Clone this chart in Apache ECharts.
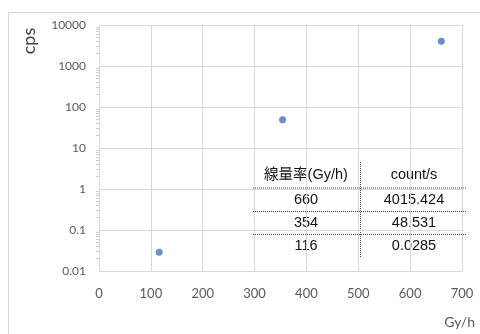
<!DOCTYPE html>
<html><head><meta charset="utf-8">
<script src="https://cdn.jsdelivr.net/npm/echarts@6/dist/echarts.min.js"></script>
<style>html,body{margin:0;padding:0;background:#fff}#c{width:480px;height:334px}</style>
</head><body><div id="c"></div>
<script>
const doseRates = [660, 354, 116];
const counts = [4015.424, 48.531, 0.0285];
const countLabels = ['4015.424', '48.531', '0.0285'];
const xTicks = [0, 100, 200, 300, 400, 500, 600, 700];
const yTicks = ['0.01', '0.1', '1', '10', '100', '1000', '10000'];
const tableHeader = ['線量率(Gy/h)', 'count/s'];
const xName = 'Gy/h';
const yName = 'cps';

const chart = echarts.init(document.getElementById('c'), null, {renderer: 'canvas'});
const font = 'Lato, "Noto Sans", "Noto Sans CJK JP", sans-serif';
const tableFont = '"Liberation Sans", Arial, "Noto Sans CJK JP", sans-serif';

const graphics = [
  {type: 'rect', shape: {x: 8.5, y: 12.5, width: 480, height: 330}, style: {fill: 'none', stroke: '#d9d9d9', lineWidth: 1}, silent: true},
  {type: 'text', x: 475, y: 322, style: {text: xName, font: '14px ' + font, fill: '#595959', align: 'right', verticalAlign: 'middle'}},
  {type: 'text', x: 29, y: 41, rotation: Math.PI / 2, style: {text: yName, font: '18px ' + font, fill: '#404040', align: 'center', verticalAlign: 'middle'}}
];
// table
const col1 = 306, col2 = 414;
const rowY = [175, 200, 223, 246];
const tf = '14.5px ' + tableFont;
graphics.push({type: 'text', x: col1, y: rowY[0], style: {text: tableHeader[0], font: tf, fill: '#111', align: 'center', verticalAlign: 'middle'}});
graphics.push({type: 'text', x: col2, y: rowY[0], style: {text: tableHeader[1], font: tf, fill: '#111', align: 'center', verticalAlign: 'middle'}});
doseRates.forEach((d, i) => {
  graphics.push({type: 'text', x: col1, y: rowY[i + 1], style: {text: String(d), font: tf, fill: '#111', align: 'center', verticalAlign: 'middle'}});
  graphics.push({type: 'text', x: col2, y: rowY[i + 1], style: {text: countLabels[i], font: tf, fill: '#111', align: 'center', verticalAlign: 'middle'}});
});
[188, 211.5, 234.5].forEach(y => {
  graphics.push({type: 'line', shape: {x1: 253, y1: y, x2: 467, y2: y}, style: {stroke: '#444', lineWidth: 1, lineDash: [1, 1]}});
});
graphics.push({type: 'line', shape: {x1: 360.5, y1: 162, x2: 360.5, y2: 258}, style: {stroke: '#444', lineWidth: 1, lineDash: [1, 1]}});

chart.setOption({
  animation: false,
  backgroundColor: '#fff',
  grid: {left: 99, right: 18, top: 25, bottom: 63, containLabel: false},
  xAxis: {
    type: 'value', min: 0, max: 700, interval: 100,
    axisLine: {show: false}, axisTick: {show: false},
    axisLabel: {color: '#595959', fontSize: 13, fontFamily: font, margin: 16, formatter: v => xTicks.includes(v) ? String(v) : ''},
    splitLine: {show: true, lineStyle: {color: '#d9d9d9', width: 1}}
  },
  yAxis: {
    type: 'log', logBase: 10, min: 0.01, max: 10000,
    axisLine: {show: true, lineStyle: {color: '#d9d9d9'}},
    axisTick: {show: false},
    minorTick: {show: true, splitNumber: 9, length: 3, lineStyle: {color: '#cfcfcf'}},
    axisLabel: {color: '#595959', fontSize: 12, fontFamily: font, margin: 13,
      formatter: v => { const s = yTicks.find(t => Math.abs(parseFloat(t) - v) / v < 1e-6); return s || ''; }},
    splitLine: {show: true, lineStyle: {color: '#d9d9d9', width: 1}}
  },
  series: [{
    type: 'scatter',
    data: doseRates.map((d, i) => [d, counts[i]]),
    symbol: 'circle', symbolSize: 7,
    itemStyle: {color: '#4472C4'}
  }],
  graphic: graphics
});
</script></body></html>
